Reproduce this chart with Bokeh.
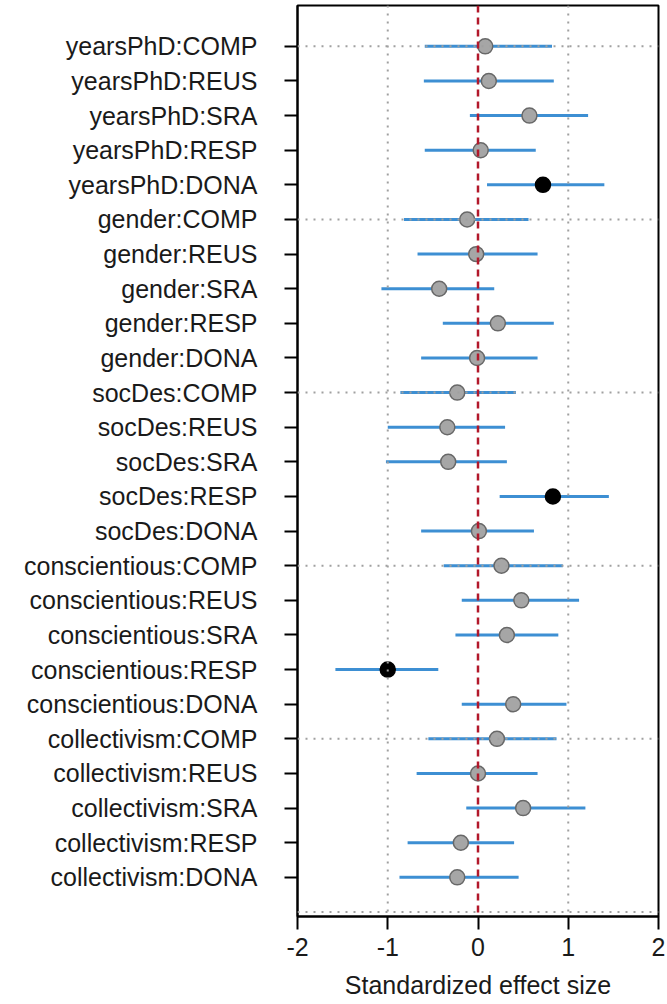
from bokeh.plotting import figure
from bokeh.models import Range1d, FixedTicker, Span, ColumnDataSource
from bokeh.embed import file_html
from bokeh.resources import INLINE

labels = [
    "yearsPhD:COMP", "yearsPhD:REUS", "yearsPhD:SRA", "yearsPhD:RESP", "yearsPhD:DONA",
    "gender:COMP", "gender:REUS", "gender:SRA", "gender:RESP", "gender:DONA",
    "socDes:COMP", "socDes:REUS", "socDes:SRA", "socDes:RESP", "socDes:DONA",
    "conscientious:COMP", "conscientious:REUS", "conscientious:SRA", "conscientious:RESP", "conscientious:DONA",
    "collectivism:COMP", "collectivism:REUS", "collectivism:SRA", "collectivism:RESP", "collectivism:DONA",
]
estimate = [0.08, 0.12, 0.57, 0.03, 0.72,
            -0.12, -0.02, -0.43, 0.22, -0.01,
            -0.23, -0.34, -0.33, 0.83, 0.01,
            0.26, 0.48, 0.32, -1.00, 0.39,
            0.21, 0.00, 0.50, -0.19, -0.23]
lower = [-0.59, -0.60, -0.09, -0.59, 0.10,
         -0.82, -0.67, -1.07, -0.39, -0.63,
         -0.86, -1.00, -1.02, 0.24, -0.63,
         -0.38, -0.18, -0.25, -1.58, -0.18,
         -0.55, -0.68, -0.13, -0.78, -0.87]
upper = [0.82, 0.84, 1.22, 0.64, 1.40,
         0.56, 0.66, 0.18, 0.84, 0.66,
         0.42, 0.30, 0.32, 1.45, 0.62,
         0.94, 1.12, 0.89, -0.44, 0.98,
         0.87, 0.66, 1.19, 0.40, 0.45]
significant = [False, False, False, False, True,
               False, False, False, False, False,
               False, False, False, True, False,
               False, False, False, True, False,
               False, False, False, False, False]
x_ticks = [-2, -1, 0, 1, 2]
group_lines = [1, 6, 11, 16, 21, 26]

rows = list(range(1, len(labels) + 1))
fill = ["black" if s else "#a6a6a6" for s in significant]
edge = ["black" if s else "#686868" for s in significant]

src = ColumnDataSource(dict(y=rows, est=estimate, lo=lower, hi=upper, fill=fill, edge=edge))

FONT = "Liberation Sans"

p = figure(width=667, height=1004, output_backend="svg", toolbar_location=None,
           x_range=Range1d(-2, 2), y_range=Range1d(26.13, -0.18),
           min_border_left=297, min_border_right=9, min_border_top=5, min_border_bottom=88)
p.background_fill_color = "white"
p.border_fill_color = "white"
p.outline_line_color = "black"
p.outline_line_width = 2
p.xgrid.visible = False
p.ygrid.visible = False

# grid lines
for v in [-1, 1]:
    p.add_layout(Span(location=v, dimension="height", line_color="#a0a0a0",
                      line_dash="2 6", line_width=2))
for g in group_lines:
    p.add_layout(Span(location=g, dimension="width", line_color="#a0a0a0",
                      line_dash="2 6", line_width=2))

p.segment(x0="lo", y0="y", x1="hi", y1="y", source=src, line_color="#3d8fd3", line_width=3)
p.add_layout(Span(location=0, dimension="height", line_color="#b2182b",
                  line_dash="7 5", line_width=2.5))
p.scatter(x="est", y="y", source=src, size=15, fill_color="fill", line_color="edge", line_width=1.5)

# axes
p.yaxis.ticker = FixedTicker(ticks=rows)
p.yaxis.major_label_overrides = {r: l for r, l in zip(rows, labels)}
p.xaxis.ticker = FixedTicker(ticks=x_ticks)
p.xaxis.major_label_overrides = {t: str(t) for t in x_ticks}
p.xaxis.axis_label = "Standardized effect size"

for ax in (p.xaxis[0], p.yaxis[0]):
    ax.axis_line_width = 2
    ax.axis_line_color = "black"
    ax.major_tick_line_width = 2
    ax.major_tick_line_color = "black"
    ax.major_tick_in = 0
    ax.major_tick_out = 13
    ax.minor_tick_line_color = None
    ax.major_label_text_font = FONT
    ax.major_label_text_color = "#1a1a1a"

p.yaxis.major_label_text_font_size = "25px"
p.yaxis.major_label_standoff = 27
p.xaxis.major_label_text_font_size = "25px"
p.xaxis.major_label_standoff = 8
p.xaxis.axis_label_text_font = FONT
p.xaxis.axis_label_text_font_style = "normal"
p.xaxis.axis_label_text_font_size = "25px"
p.xaxis.axis_label_text_color = "#1a1a1a"
p.xaxis.axis_label_standoff = 12

open("out.html", "w").write(file_html(p, INLINE))
